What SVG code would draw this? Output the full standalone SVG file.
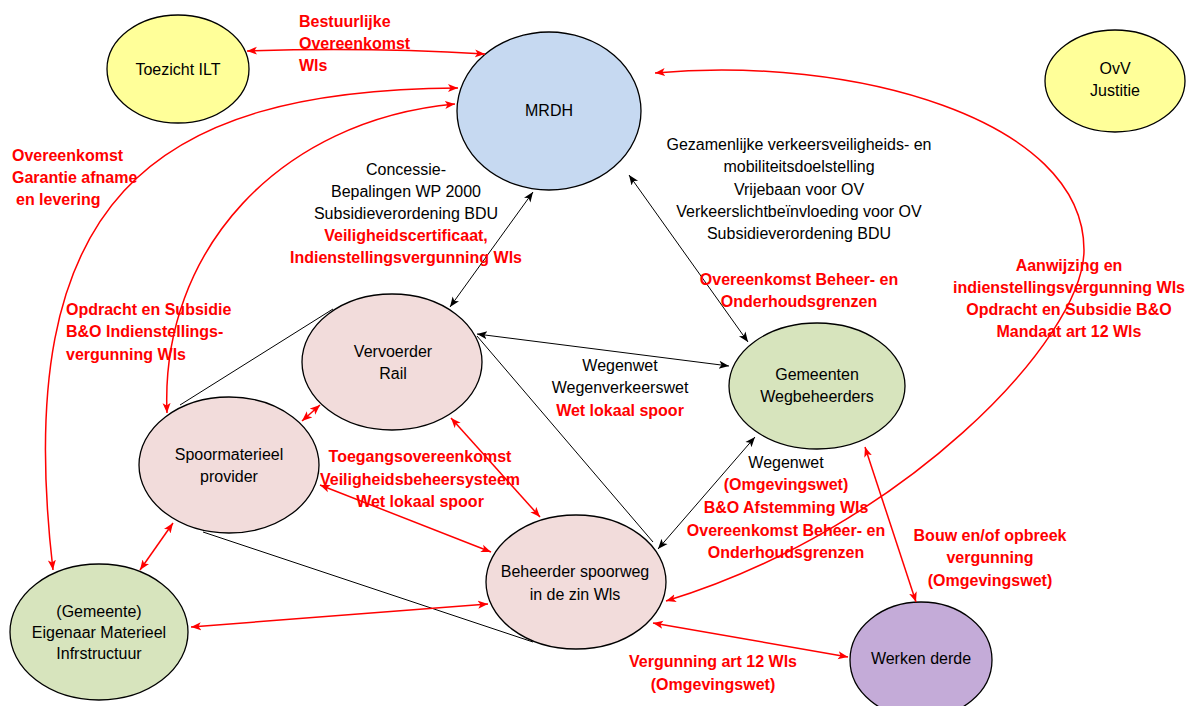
<svg xmlns="http://www.w3.org/2000/svg" width="1193" height="706" viewBox="0 0 1193 706">
<defs>
<marker id="ar" viewBox="0 0 10 10" refX="10" refY="5" markerWidth="10" markerHeight="10" markerUnits="userSpaceOnUse" orient="auto-start-reverse"><path d="M0,1 L10,5 L0,9 L2.5,5 z" fill="#ff0000"/></marker>
<marker id="ak" viewBox="0 0 10 10" refX="10" refY="5" markerWidth="10" markerHeight="10" markerUnits="userSpaceOnUse" orient="auto-start-reverse"><path d="M0,1 L10,5 L0,9 L2.5,5 z" fill="#000"/></marker>
</defs>
<style>
.n{stroke:#000;stroke-width:1.3}
.y{fill:#ffff99}.b{fill:#c6d9f1}.p{fill:#f2dcdb}.g{fill:#d7e4bd}.v{fill:#c4abd8}
text{font-family:"Liberation Sans",Arial,sans-serif;font-size:16px}
.t{fill:#000;text-anchor:middle}
.k{fill:#000}
.r{fill:#ff0000;font-weight:bold}
.c{text-anchor:middle}
.rl{stroke:#ff0000;stroke-width:1.5;fill:none;marker-start:url(#ar);marker-end:url(#ar)}
.bl{stroke:#000;stroke-width:1;fill:none;marker-start:url(#ak);marker-end:url(#ak)}
.pl{stroke:#000;stroke-width:1;fill:none}
</style>
<g id="connectors">
<line class="pl" x1="180" y1="405" x2="333" y2="309"/>
<line class="pl" x1="477" y1="336" x2="653" y2="542"/>
<line class="pl" x1="203" y1="532" x2="533" y2="642"/>
</g>
<g id="node-toezicht"><ellipse class="n y" cx="178" cy="69" rx="71" ry="54"/><text class="t" x="178" y="75">Toezicht ILT</text></g>
<g id="node-mrdh"><ellipse class="n b" cx="549" cy="111" rx="92" ry="79"/><text class="t" x="549" y="116">MRDH</text></g>
<g id="node-ovv"><ellipse class="n y" cx="1115" cy="81" rx="70" ry="51"/><text class="t" x="1115" y="74">OvV</text><text class="t" x="1115" y="96">Justitie</text></g>
<g id="node-vervoerder"><ellipse class="n p" cx="392" cy="362" rx="90" ry="68"/><text class="t" x="393" y="357">Vervoerder</text><text class="t" x="393" y="379">Rail</text></g>
<g id="node-gemeenten"><ellipse class="n g" cx="817" cy="386" rx="88" ry="63"/><text class="t" x="817" y="380">Gemeenten</text><text class="t" x="817" y="402">Wegbeheerders</text></g>
<g id="node-spoormaterieel"><ellipse class="n p" cx="229" cy="465" rx="90" ry="68"/><text class="t" x="229" y="460">Spoormaterieel</text><text class="t" x="229" y="482">provider</text></g>
<g id="node-beheerder"><ellipse class="n p" cx="576" cy="582" rx="90" ry="67"/><text class="t" x="575" y="577">Beheerder spoorweg</text><text class="t" x="575" y="600">in de zin Wls</text></g>
<g id="node-eigenaar"><ellipse class="n g" cx="99" cy="632" rx="89" ry="68"/><text class="t" x="99" y="617">(Gemeente)</text><text class="t" x="99" y="638">Eigenaar Materieel</text><text class="t" x="99" y="659">Infrstructuur</text></g>
<g id="node-werken"><ellipse class="n v" cx="921" cy="660" rx="71" ry="58"/><text class="t" x="921" y="664">Werken derde</text></g>
<g id="arrows">
<path class="rl" d="M247,51 Q366,47 485,54"/>
<path class="rl" d="M53,570 C10,200 150,90 458,88"/>
<path class="rl" d="M167,413 C160,250 280,120 455,104"/>
<path class="rl" d="M655,73 C850,55 1084,118 1084,250 C1084,340 900,530 666,601"/>
<line class="bl" x1="477" y1="334" x2="729" y2="366"/>
<line class="bl" x1="533" y1="192" x2="450" y2="307"/>
<line class="bl" x1="629" y1="175" x2="748" y2="342"/>
<line class="bl" x1="755" y1="437" x2="658" y2="549"/>
<line class="rl" x1="451" y1="418" x2="540" y2="517"/>
<line class="rl" x1="320" y1="485" x2="491" y2="552"/>
<line class="rl" x1="302" y1="421" x2="320" y2="405"/>
<line class="rl" x1="173" y1="523" x2="140" y2="570"/>
<line class="rl" x1="191" y1="627" x2="488" y2="604"/>
<line class="rl" x1="653" y1="623" x2="848" y2="657"/>
<line class="rl" x1="865" y1="447" x2="916" y2="602"/>
</g>
<g id="labels">
<text class="r" x="299" y="27">Bestuurlijke</text><text class="r" x="299" y="49">Overeenkomst</text><text class="r" x="299" y="71">Wls</text>
<text class="r" x="12" y="161">Overeenkomst</text><text class="r" x="12" y="183">Garantie afname</text><text class="r" x="16" y="205">en levering</text>
<text class="k c" x="406" y="175">Concessie-</text><text class="k c" x="406" y="197">Bepalingen WP 2000</text><text class="k c" x="406" y="219">Subsidieverordening BDU</text>
<text class="r c" x="406" y="241">Veiligheidscertificaat,</text><text class="r c" x="406" y="263">Indienstellingsvergunning Wls</text>
<text class="k c" x="799" y="150">Gezamenlijke verkeersveiligheids- en</text><text class="k c" x="799" y="172">mobiliteitsdoelstelling</text><text class="k c" x="799" y="195">Vrijebaan voor OV</text><text class="k c" x="799" y="217">Verkeerslichtbeïnvloeding voor OV</text><text class="k c" x="799" y="239">Subsidieverordening BDU</text>
<text class="r c" x="799" y="285">Overeenkomst Beheer- en</text><text class="r c" x="799" y="307">Onderhoudsgrenzen</text>
<text class="r c" x="1069" y="271">Aanwijzing en</text><text class="r c" x="1069" y="293">indienstellingsvergunning Wls</text><text class="r c" x="1069" y="315">Opdracht en Subsidie B&amp;O</text><text class="r c" x="1069" y="337">Mandaat art 12 Wls</text>
<text class="r" x="66" y="315">Opdracht en Subsidie</text><text class="r" x="66" y="337">B&amp;O Indienstellings-</text><text class="r" x="66" y="360">vergunning Wls</text>
<text class="k c" x="620" y="371">Wegenwet</text><text class="k c" x="620" y="393">Wegenverkeerswet</text><text class="r c" x="620" y="416">Wet lokaal spoor</text>
<text class="r c" x="420" y="462">Toegangsovereenkomst</text><text class="r c" x="420" y="485">Veiligheidsbeheersysteem</text><text class="r c" x="420" y="507">Wet lokaal spoor</text>
<text class="k c" x="786" y="468">Wegenwet</text><text class="r c" x="786" y="490">(Omgevingswet)</text><text class="r c" x="786" y="513">B&amp;O Afstemming Wls</text><text class="r c" x="786" y="536">Overeenkomst Beheer- en</text><text class="r c" x="786" y="558">Onderhoudsgrenzen</text>
<text class="r c" x="990" y="541">Bouw en/of opbreek</text><text class="r c" x="990" y="563">vergunning</text><text class="r c" x="990" y="586">(Omgevingswet)</text>
<text class="r c" x="713" y="667">Vergunning art 12 Wls</text><text class="r c" x="713" y="690">(Omgevingswet)</text>
</g>
</svg>
